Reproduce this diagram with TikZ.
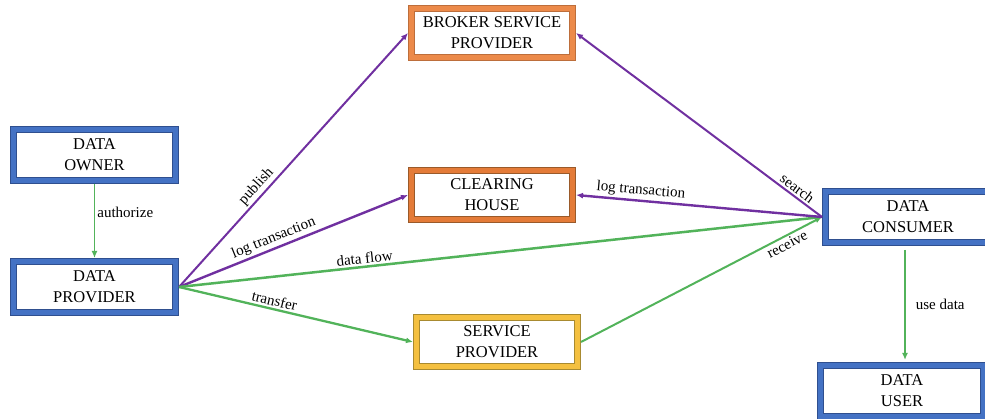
\documentclass[tikz,border=0pt]{standalone}
\usepackage{fontspec}
\setmainfont{Liberation Serif}
\usetikzlibrary{arrows.meta}
\definecolor{bl}{HTML}{4472C4}
\definecolor{bldark}{HTML}{2F4F8F}
\definecolor{org}{HTML}{E47B38}
\definecolor{orglight}{HTML}{EC8A4A}
\definecolor{orgdark}{HTML}{9A5A2A}
\definecolor{yel}{HTML}{F4C040}
\definecolor{yeldark}{HTML}{A88A30}
\definecolor{grn}{HTML}{52B35A}
\definecolor{pur}{HTML}{7030A0}
\tikzset{
  base/.style={rectangle, fill=white, line width=0.8pt, double distance=5.6pt,
    outer sep=3.6pt, minimum width=161.8pt, minimum height=50.8pt, inner sep=0pt,
    align=center, font=\fontsize{16.5}{21}\selectfont},
  bluebox/.style={base, draw=bldark, double=bl},
  orangebox/.style={base, draw=orgdark, double=org},
  brokerbox/.style={base, draw=orglight!80!black, double=orglight},
  yellowbox/.style={base, draw=yeldark, double=yel},
  conn/.style={line width=2pt, -{Latex[length=7pt,width=6pt]}},
  gconn/.style={conn, draw=grn},
  pconn/.style={conn, draw=pur},
  lab/.style={font=\fontsize{15}{17}\selectfont, inner sep=2pt, text=black}
}
\begin{document}
\begin{tikzpicture}[x=1pt,y=-1pt]
\useasboundingbox (0,0) rectangle (985,419);
\clip (0,0) rectangle (985,419);
\node[bluebox] (owner) at (94.5,155) {DATA\\OWNER};
\node[bluebox] (provider) at (94.5,287) {DATA\\PROVIDER};
\node[brokerbox, minimum height=48.8pt, minimum width=160.8pt] (broker) at (492,33) {BROKER SERVICE\\PROVIDER};
\node[orangebox, minimum height=48.8pt, minimum width=160.8pt] (clearing) at (492,195) {CLEARING\\HOUSE};
\node[yellowbox, minimum height=48.8pt, minimum width=160.8pt] (service) at (497,342) {SERVICE\\PROVIDER};
\node[bluebox, minimum width=164.8pt] (consumer) at (908,217) {DATA\\CONSUMER};
\node[bluebox, minimum width=162.8pt] (user) at (902,391) {DATA\\USER};

\draw[gconn, line width=1.7pt] (owner.south) -- node[lab, right, pos=0.38] {authorize} (provider.north);
\draw[pconn] (provider.east) -- node[lab, sloped, above, pos=0.37] {publish} (broker.west);
\draw[pconn, line width=2.4pt] (provider.east) -- node[lab, sloped, above, pos=0.43] {log transaction} (clearing.west);
\draw[gconn, line width=2.5pt] (provider.east) -- node[lab, sloped, above, pos=0.29] {data flow} (consumer.west);
\draw[gconn, line width=2.3pt] (provider.east) -- node[lab, sloped, above, pos=0.4] {transfer} (service.west);
\draw[gconn] (service.east) -- node[lab, sloped, below, pos=0.84] {receive} (consumer.west);
\draw[pconn] (consumer.west) -- node[lab, sloped, above, pos=0.12] {search} (broker.east);
\draw[pconn, line width=2.4pt] (consumer.west) -- node[lab, sloped, above, pos=0.74] {log transaction} (clearing.east);
\draw[gconn, line width=1.7pt, shorten <=4pt, shorten >=2pt] ([xshift=-3pt]consumer.south) -- node[lab, right, pos=0.5, xshift=8pt] {use data} ([xshift=-3pt]consumer.south |- user.north);
\end{tikzpicture}
\end{document}
